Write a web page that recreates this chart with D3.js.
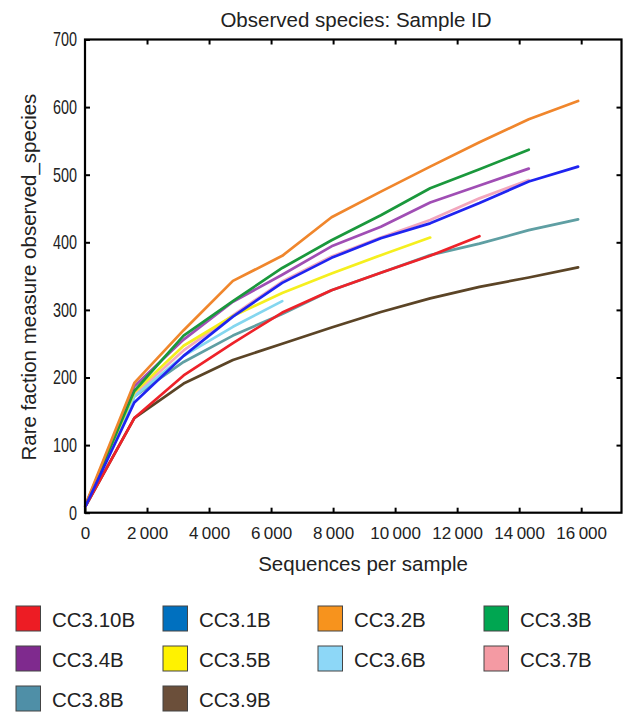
<!DOCTYPE html>
<html>
<head>
<meta charset="utf-8">
<script src="https://cdn.jsdelivr.net/npm/d3@7"></script>
<style>
  html, body { margin: 0; padding: 0; background: #fff; }
  svg { display: block; font-family: "Liberation Sans", Arial, Helvetica, sans-serif; }
</style>
</head>
<body>
<svg id="chart" width="629" height="712"></svg>
<script>
// Rarefaction depths (sequences per sample)
const depths = [10, 1590, 3180, 4770, 6360, 7950, 9540, 11130, 12720, 14310, 15900];

// Observed species per sample at each depth
const cc310B = [9, 140, 203, 251, 296, 329, 355, 380, 409];
const cc31B  = [9, 163, 232, 290, 340, 377, 406, 428, 458, 490, 512];
const cc32B  = [11, 192, 270, 343, 380, 437, 475, 512, 548, 582, 609];
const cc33B  = [10, 180, 262, 313, 362, 403, 440, 480, 508, 537];
const cc34B  = [10, 187, 256, 312, 352, 394, 423, 459, 484, 509];
const cc35B  = [10, 178, 247, 291, 325, 354, 381, 407];
const cc36B  = [10, 172, 232, 275, 313];
const cc37B  = [10, 175, 240, 292, 342, 379, 407, 433, 465, 492];
const cc38B  = [10, 172, 223, 262, 294, 329, 355, 381, 398, 418, 434];
const cc39B  = [9, 140, 191, 226, 250, 274, 297, 317, 334, 348, 363];

const sampleNames = ["CC3.10B", "CC3.1B", "CC3.2B", "CC3.3B", "CC3.4B",
                     "CC3.5B", "CC3.6B", "CC3.7B", "CC3.8B", "CC3.9B"];
const sampleValues = [cc310B, cc31B, cc32B, cc33B, cc34B, cc35B, cc36B, cc37B, cc38B, cc39B];
const lineColors   = ["#ee2229", "#1f24f0", "#f0862c", "#1a983c", "#a04eb4",
                      "#f5ef1e", "#84d6ef", "#f2a7bd", "#5f9fa3", "#5b4426"];
const swatchColors = ["#ed1c24", "#0070bf", "#f7931d", "#00a651", "#7f2a8e",
                      "#fff200", "#8dd7f7", "#f49aa3", "#4f8fa7", "#6b4f3a"];
// Drawing order, back to front
const drawOrder = [9, 8, 7, 6, 5, 4, 3, 2, 0, 1];

const xTicks = [0, 2000, 4000, 6000, 8000, 10000, 12000, 14000, 16000];
const yTicks = [0, 100, 200, 300, 400, 500, 600, 700];

const svg = d3.select("#chart");
const plotLeft = 85, plotRight = 621.5, plotTop = 39.5, plotBottom = 512.7;

const x = d3.scaleLinear().domain([0, 17300]).range([plotLeft, plotRight]);
const y = d3.scaleLinear().domain([0, 700]).range([plotBottom, plotTop]);

const fmt = d => d === 0 ? "0" : d3.format(",")(d).replace(",", "\u2009");

// Axes with inward ticks
const gx = svg.append("g").attr("transform", `translate(0,${plotBottom})`)
  .call(d3.axisBottom(x).tickValues(xTicks).tickFormat(fmt)
        .tickSizeInner(-5).tickSizeOuter(0).tickPadding(14));
const gxTop = svg.append("g").attr("transform", `translate(0,${plotTop})`)
  .call(d3.axisTop(x).tickValues(xTicks.slice(1)).tickFormat("")
        .tickSizeInner(-5).tickSizeOuter(0));
const gy = svg.append("g").attr("transform", `translate(${plotLeft},0)`)
  .call(d3.axisLeft(y).tickValues(yTicks).tickFormat(d3.format("d"))
        .tickSizeInner(-5).tickSizeOuter(0).tickPadding(8));
const gyRight = svg.append("g").attr("transform", `translate(${plotRight},0)`)
  .call(d3.axisRight(y).tickValues(yTicks.slice(1, -1)).tickFormat("")
        .tickSizeInner(-5).tickSizeOuter(0));

[gx, gxTop, gy, gyRight].forEach(g => {
  g.select(".domain").remove();
  g.selectAll(".tick line").attr("stroke", "#000").attr("stroke-width", 2);
  g.selectAll(".tick text").attr("fill", "#222").attr("font-size", 17)
    .attr("font-family", "'Liberation Sans', Arial, sans-serif");
});
// Condensed value labels on the vertical axis
const yLabelSqueeze = 0.72;
gy.selectAll(".tick text")
  .attr("font-size", 20)
  .attr("x", -8 / yLabelSqueeze)
  .attr("transform", `scale(${yLabelSqueeze},1)`);

// Rarefaction curves
const line = d3.line()
  .x((d, i) => x(depths[i]))
  .y(d => y(d));

svg.append("g").selectAll("path")
  .data(drawOrder)
  .join("path")
  .attr("d", i => line(sampleValues[i]))
  .attr("fill", "none")
  .attr("stroke", i => lineColors[i])
  .attr("stroke-width", 2.7)
  .attr("stroke-linejoin", "round")
  .attr("stroke-linecap", "round");

// Plot frame
svg.append("rect")
  .attr("x", plotLeft).attr("y", plotTop)
  .attr("width", plotRight - plotLeft).attr("height", plotBottom - plotTop)
  .attr("fill", "none").attr("stroke", "#000").attr("stroke-width", 2.2);

// Titles
svg.append("text").attr("x", 356).attr("y", 27)
  .attr("text-anchor", "middle").attr("font-size", 20.5).attr("fill", "#222")
  .text("Observed species: Sample ID");
svg.append("text").attr("x", 363).attr("y", 571)
  .attr("text-anchor", "middle").attr("font-size", 20.5).attr("fill", "#222")
  .text("Sequences per sample");
svg.append("text")
  .attr("transform", `translate(36,${(plotTop + plotBottom) / 2 + 1}) rotate(-90)`)
  .attr("text-anchor", "middle").attr("font-size", 20.5).attr("fill", "#222")
  .text("Rare faction measure observed_species");

// Legend
const legendCols = [16, 163, 318, 484];
const legend = svg.append("g").selectAll("g")
  .data(sampleNames)
  .join("g")
  .attr("transform", (d, i) => `translate(${legendCols[i % 4]},${606 + Math.floor(i / 4) * 40})`);
legend.append("rect")
  .attr("width", 24.5).attr("height", 25)
  .attr("fill", (d, i) => swatchColors[i])
  .attr("stroke", "#444").attr("stroke-width", 1);
legend.append("text")
  .attr("x", 36).attr("y", 20.5)
  .attr("font-size", 20.5).attr("fill", "#222")
  .text(d => d);
</script>
</body>
</html>
